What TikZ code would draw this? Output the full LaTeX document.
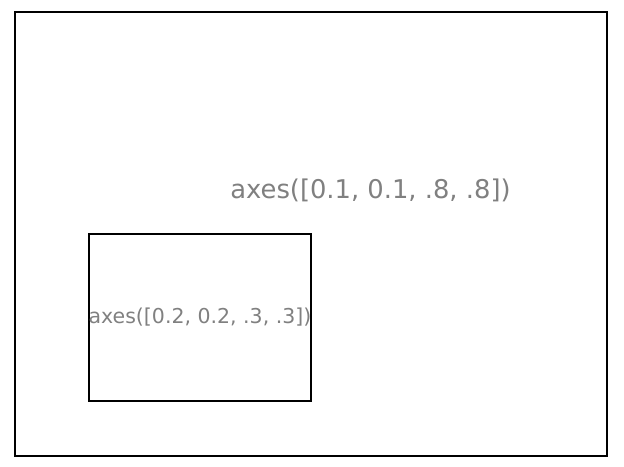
\documentclass[tikz,border=0pt]{standalone}
\usepackage{fontspec}
\setmainfont{DejaVu Sans}
\usepackage{tikz}
\usetikzlibrary{positioning}

\begin{document}
\begin{tikzpicture}[x=1pt, y=1pt,
        axbox/.style={draw=black, line width=1.1pt, inner sep=0pt, outer sep=0pt},
        axlabel/.style={text=black!50, inner sep=0pt}
    ]
        \useasboundingbox (0,0) rectangle (624,466);
        % Axes
            \node[axbox, minimum width=592pt, minimum height=444pt, anchor=south west] (mainax) at (15,10) {};
            \node[axbox, minimum width=222pt, minimum height=167pt, anchor=south west] (insetax) at (89,65) {};

            % Labels
            \node[axlabel, font=\fontsize{25.8}{30}\selectfont] (mainlbl) at (370.5,276) {axes([0.1, 0.1, .8, .8])};
            \node[axlabel, font=\fontsize{20.5}{24}\selectfont] (insetlbl) at (200,149) {axes([0.2, 0.2, .3, .3])};
    \end{tikzpicture}
\end{document}
